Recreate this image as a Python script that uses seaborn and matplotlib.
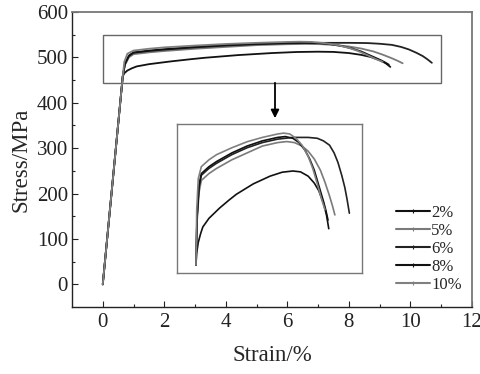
import numpy as np
import pandas as pd
import matplotlib
matplotlib.use("Agg")
import matplotlib.pyplot as plt
from matplotlib.lines import Line2D
from matplotlib.patches import Rectangle
import seaborn as sns

labels = ["2%", "5%", "6%", "8%", "10%"]
colors = ["#111111", "#7a7a7a", "#222222", "#111111", "#808080"]

strain_2 = [0, 0.65, 0.7, 0.8, 0.95, 1.1, 1.5, 2.2, 2.8, 3.3, 4.4, 5.5, 6.3, 7.0, 7.5, 8.0, 8.4, 8.7, 9.0, 9.2, 9.35]
stress_2 = [0, 458, 465, 471, 476, 480, 485, 491, 495.5, 499, 505, 509.5, 511.8, 512.5, 512, 509.5, 505.5, 501, 494, 487, 479]

strain_5 = [0, 0.65, 0.72, 0.85, 1.0, 1.5, 2, 3, 4, 5, 6, 6.6, 7.1, 7.6, 8.0, 8.4, 8.8, 9.1, 9.4, 9.6, 9.75]
stress_5 = [0, 458, 483, 500, 507, 511, 514, 519, 523, 527, 529, 529.6, 529, 527, 524, 519.5, 513, 506, 498, 492, 487]

strain_6 = [0, 0.65, 0.72, 0.85, 1.0, 1.5, 2, 3, 4, 5, 6, 7, 8, 8.6, 9.0, 9.4, 9.7, 9.95, 10.2, 10.4, 10.55, 10.7]
stress_6 = [0, 458, 485, 503, 510, 514, 517, 522, 526, 529, 531, 532, 532, 531.5, 530, 527.5, 523, 517.5, 510, 503, 496, 488]

strain_8 = [0, 0.65, 0.72, 0.85, 1.0, 1.5, 2, 3, 4, 5, 6, 6.5, 7.0, 7.4, 7.8, 8.1, 8.4, 8.7, 9.0, 9.15, 9.3]
stress_8 = [0, 458, 486, 504, 511, 515, 518, 523, 527, 530, 532, 532.5, 531.5, 529, 524.5, 519.5, 513, 504, 495, 490, 484]

strain_10 = [0, 0.65, 0.7, 0.8, 1.0, 1.5, 2, 3, 4, 5, 6, 6.4, 6.8, 7.2, 7.6, 8.0, 8.3, 8.6, 8.85, 9.1]
stress_10 = [0, 458, 490, 508, 515, 519, 522, 526, 529.5, 532, 534, 534.5, 534, 531.5, 527.5, 521, 514, 505, 497, 490]

strains = [strain_2, strain_5, strain_6, strain_8, strain_10]
stresses = [stress_2, stress_5, stress_6, stress_8, stress_10]

frames = []
for lab, s, t in zip(labels, strains, stresses):
    frames.append(pd.DataFrame({"strain": s, "stress": t, "label": lab, "order": range(len(s))}))
df = pd.concat(frames, ignore_index=True)
df_in = df[df["order"] >= 1]

sns.set_style("ticks")
plt.rcParams["font.family"] = ["Liberation Serif", "DejaVu Serif"]

fig = plt.figure(figsize=(4.8, 3.74), dpi=100)
ax = fig.add_axes([0.15, 0.179, 0.833, 0.789])
palette = dict(zip(labels, colors))

sns.lineplot(data=df, x="strain", y="stress", hue="label", palette=palette,
             sort=False, estimator=None, ax=ax, legend=False, linewidth=1.3)

ax.set_xlim(-1, 12)
ax.set_ylim(-50, 600)
ax.set_xticks(range(0, 13, 2))
ax.set_xticks(range(1, 12, 2), minor=True)
ax.set_yticks(range(0, 601, 100))
ax.set_yticks(range(50, 600, 100), minor=True)
ax.tick_params(which="both", direction="in", top=False, right=False, labelsize=15, width=0.8, colors="#222222")
ax.tick_params(which="major", length=4)
ax.tick_params(which="minor", length=2.5)
ax.tick_params(axis="x", pad=4)
ax.tick_params(axis="y", pad=3)
for sp in ["left", "bottom"]:
    ax.spines[sp].set_color("#222222")
    ax.spines[sp].set_linewidth(1.0)
for sp in ["top", "right"]:
    ax.spines[sp].set_visible(True)
    ax.spines[sp].set_color("#777777")
    ax.spines[sp].set_linewidth(1.3)
ax.set_xlabel("Strain/%", fontsize=16.5, labelpad=10)
ax.set_ylabel("Stress/MPa", fontsize=16.5, labelpad=4)

# highlight rectangle and arrow
ax.add_patch(Rectangle((0, 444), 11, 105, fill=False, edgecolor="#666666", linewidth=1.0))
ax.annotate("", xy=(5.6, 366), xytext=(5.6, 444),
            arrowprops=dict(arrowstyle="-|>", color="black", lw=1.3, mutation_scale=12,
                            shrinkA=0, shrinkB=0))

# inset
x0, x1, y0, y1 = 2.43, 8.44, 24, 354
inv = ax.transData
(px0, py0) = fig.transFigure.inverted().transform(inv.transform((x0, y0)))
(px1, py1) = fig.transFigure.inverted().transform(inv.transform((x1, y1)))
axin = fig.add_axes([px0, py0, px1 - px0, py1 - py0])
sns.lineplot(data=df_in, x="strain", y="stress", hue="label", palette=palette,
             sort=False, estimator=None, ax=axin, legend=False, linewidth=1.2)
axin.set_xlim(-0.56, 11.55)
axin.set_ylim(453, 540)
axin.set_xticks([])
axin.set_yticks([])
axin.set_xlabel("")
axin.set_ylabel("")
for sp in axin.spines.values():
    sp.set_color("#777777")
    sp.set_linewidth(1.0)

handles = [Line2D([], [], color=c, lw=1.5, marker="|", markersize=3, markeredgewidth=0.8)
           for c in colors]
ax.legend(handles, labels, loc="lower right", bbox_to_anchor=(1.0, 0.015), frameon=False,
          fontsize=12, handlelength=2.0, handletextpad=0.1, labelspacing=0.12,
          borderaxespad=0.2)

fig.savefig("out.png", dpi=100)
